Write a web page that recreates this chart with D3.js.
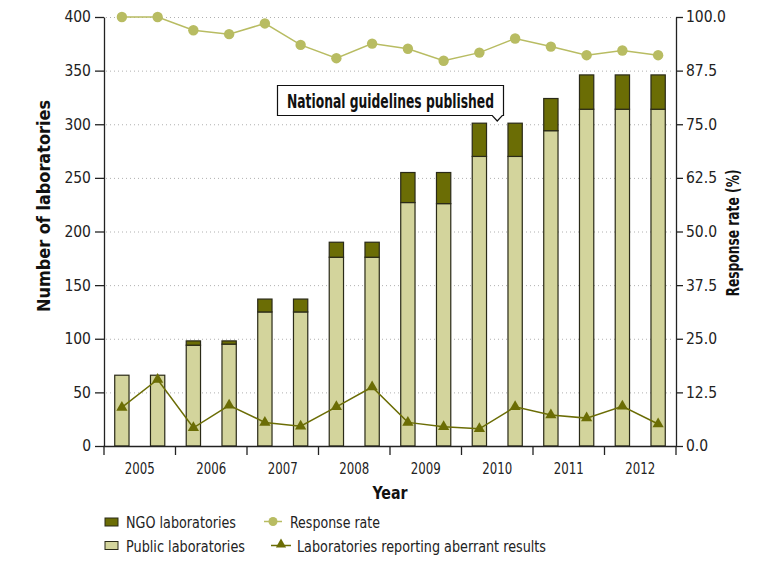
<!DOCTYPE html>
<html>
<head>
<meta charset="utf-8">
<script src="https://cdn.jsdelivr.net/npm/d3@7"></script>
<style>
  html, body { margin: 0; padding: 0; background: #fff; }
  svg { display: block; font-family: "DejaVu Sans", sans-serif; font-stretch: condensed; }
</style>
</head>
<body>
<svg id="chart" width="771" height="562"></svg>
<script>
const years = ["2005", "2006", "2007", "2008", "2009", "2010", "2011", "2012"];
const periods = ["2005a","2005b","2006a","2006b","2007a","2007b","2008a","2008b","2009a","2009b","2010a","2010b","2011a","2011b","2012a","2012b"];
const publicLabs = [66, 66, 94, 95, 125, 125, 176, 176, 227, 226, 270, 270, 294, 314, 314, 314];
const ngoLabs    = [0, 0, 4, 3, 12, 12, 14, 14, 28, 29, 31, 31, 30, 32, 32, 32];
const responseRate = [100, 100, 96.9, 96.0, 98.5, 93.5, 90.4, 93.8, 92.6, 89.8, 91.7, 95.0, 93.1, 91.1, 92.2, 91.1];
const aberrantLabs = [36, 62, 17, 38, 22, 18.5, 36.5, 55, 22, 18, 16, 36.5, 29, 26, 37, 20.5];
const leftTicks = [0, 50, 100, 150, 200, 250, 300, 350, 400];
const rightTicks = [0, 12.5, 25, 37.5, 50, 62.5, 75, 87.5, 100];
const annotationText = "National guidelines published";

const colNGO = "#6b6d05";
const colPublic = "#d3d49c";
const colResp = "#b8bc62";
const colAberr = "#6b6d05";

const svg = d3.select("#chart");
const L = 104, R = 676, T = 17, B = 446;

const x = d3.scaleBand().domain(periods).range([L, R]).paddingInner(0.6).paddingOuter(0.3);
const step = x.step();
const yL = d3.scaleLinear().domain([0, 400]).range([B, T]);
const yR = d3.scaleLinear().domain([0, 100]).range([B, T]);
const cx = d => x(d) + x.bandwidth() / 2;

// gridlines
svg.append("g").selectAll("line").data(leftTicks.filter(t => t > 0)).join("line")
  .attr("x1", L + 2).attr("x2", R - 2)
  .attr("y1", d => yL(d) + 0.5).attr("y2", d => yL(d) + 0.5)
  .attr("stroke", "#b0b0b0").attr("stroke-width", 1).attr("stroke-dasharray", "1,3");

// bars
const stacked = periods.map((p, i) => ({p, pub: publicLabs[i], ngo: ngoLabs[i]}));
const gb = svg.append("g");
gb.selectAll("rect.pub").data(stacked).join("rect").attr("class", "pub")
  .attr("x", d => x(d.p)).attr("width", x.bandwidth())
  .attr("y", d => yL(d.pub)).attr("height", d => yL(0) - yL(d.pub))
  .attr("fill", colPublic).attr("stroke", "#2a2a18").attr("stroke-width", 1.2);
gb.selectAll("rect.ngo").data(stacked.filter(d => d.ngo > 0)).join("rect").attr("class", "ngo")
  .attr("x", d => x(d.p)).attr("width", x.bandwidth())
  .attr("y", d => yL(d.pub + d.ngo)).attr("height", d => yL(d.pub) - yL(d.pub + d.ngo))
  .attr("fill", colNGO).attr("stroke", "#2a2a18").attr("stroke-width", 1.2);

// response rate line
const respLine = d3.line().x((d, i) => cx(periods[i])).y(d => yR(d));
svg.append("path").datum(responseRate).attr("d", respLine)
  .attr("fill", "none").attr("stroke", colResp).attr("stroke-width", 1.5);
svg.append("g").selectAll("circle").data(responseRate).join("circle")
  .attr("cx", (d, i) => cx(periods[i])).attr("cy", d => yR(d)).attr("r", 5.2)
  .attr("fill", colResp);

// aberrant line
const abLine = d3.line().x((d, i) => cx(periods[i])).y(d => yL(d));
svg.append("path").datum(aberrantLabs).attr("d", abLine)
  .attr("fill", "none").attr("stroke", colAberr).attr("stroke-width", 1.5);
const tri = d3.symbol().type(d3.symbolTriangle).size(55);
svg.append("g").selectAll("path").data(aberrantLabs).join("path")
  .attr("d", tri)
  .attr("transform", (d, i) => `translate(${cx(periods[i])},${yL(d)})`)
  .attr("fill", colAberr);

// left axis
const axL = svg.append("g").attr("transform", `translate(${L},0)`)
  .call(d3.axisLeft(yL).tickValues(leftTicks).tickSize(9).tickPadding(4).tickSizeOuter(0));
axL.attr("font-family", null);
axL.select(".domain").attr("stroke", "#222").attr("stroke-width", 1.3);
axL.selectAll(".tick line").attr("stroke", "#222").attr("stroke-width", 1.3);
axL.selectAll("text").attr("font-size", 15.5).attr("fill", "#222");

// right axis
const axR = svg.append("g").attr("transform", `translate(${R},0)`)
  .call(d3.axisRight(yR).tickValues(rightTicks).tickFormat(d3.format(".1f")).tickSize(7).tickPadding(3).tickSizeOuter(0));
axR.attr("font-family", null);
axR.select(".domain").attr("stroke", "#222").attr("stroke-width", 1.3);
axR.selectAll(".tick line").attr("stroke", "#222").attr("stroke-width", 1.3);
axR.selectAll("text").attr("font-size", 15.5).attr("fill", "#222");

// bottom axis: year boundaries
const yearX = d3.scaleBand().domain(years).range([L, R]);
const gx = svg.append("g");
gx.append("line").attr("x1", L - 0.5).attr("x2", R + 0.5).attr("y1", B + 0.5).attr("y2", B + 0.5)
  .attr("stroke", "#222").attr("stroke-width", 1.3);
const bounds = years.map(y => yearX(y)).concat([R]);
gx.selectAll("line.t").data(bounds).join("line").attr("class", "t")
  .attr("x1", d => d).attr("x2", d => d).attr("y1", B).attr("y2", B + 9)
  .attr("stroke", "#222").attr("stroke-width", 1.3);
gx.selectAll("text").data(years).join("text")
  .attr("x", d => yearX(d) + yearX.bandwidth() / 2).attr("y", 474)
  .attr("text-anchor", "middle").attr("font-size", 16.5).attr("fill", "#222")
  .attr("textLength", 30).attr("lengthAdjust", "spacingAndGlyphs").text(d => d);

// axis titles
svg.append("text").attr("x", (L + R) / 2).attr("y", 499).attr("text-anchor", "middle")
  .attr("font-size", 18).attr("font-weight", "bold").attr("fill", "#111")
  .attr("textLength", 35).attr("lengthAdjust", "spacingAndGlyphs").text("Year");
svg.append("text").attr("transform", "translate(50,206) rotate(-90)").attr("text-anchor", "middle")
  .attr("font-size", 17).attr("font-weight", "bold").attr("fill", "#111")
  .attr("textLength", 212).attr("lengthAdjust", "spacingAndGlyphs").text("Number of laboratories");
svg.append("text").attr("transform", "translate(739,233) rotate(-90)").attr("text-anchor", "middle")
  .attr("font-size", 17).attr("font-weight", "bold").attr("fill", "#111")
  .attr("textLength", 127).attr("lengthAdjust", "spacingAndGlyphs").text("Response rate (%)");

// annotation
const tipX = x(periods[11]) - (step - x.bandwidth()) / 2;
const ga = svg.append("g");
const bx0 = 277.5, bx1 = 503.5, by0 = 85.5, by1 = 115.5, tipY = 121;
ga.append("path")
  .attr("d", `M${bx0},${by0} H${bx1} V${by1} H${tipX + 5} L${tipX},${tipY} L${tipX - 5},${by1} H${bx0} Z`)
  .attr("fill", "#fff").attr("stroke", "#111").attr("stroke-width", 1.2);
ga.append("text").attr("x", (bx0 + bx1) / 2).attr("y", 107.5).attr("text-anchor", "middle")
  .attr("font-size", 19).attr("font-weight", "bold").attr("fill", "#111")
  .attr("textLength", 207).attr("lengthAdjust", "spacingAndGlyphs").text(annotationText);

// legend
const lg = svg.append("g").attr("font-size", 15.5).attr("fill", "#222");
lg.append("rect").attr("x", 105).attr("y", 518).attr("width", 13).attr("height", 8)
  .attr("fill", colNGO).attr("stroke", "#2a2a18");
lg.append("text").attr("x", 126).attr("y", 527.5).attr("textLength", 110).attr("lengthAdjust", "spacingAndGlyphs").text("NGO laboratories");
lg.append("rect").attr("x", 105).attr("y", 541.5).attr("width", 13).attr("height", 8)
  .attr("fill", colPublic).attr("stroke", "#2a2a18");
lg.append("text").attr("x", 126).attr("y", 551.5).attr("textLength", 119).attr("lengthAdjust", "spacingAndGlyphs").text("Public laboratories");
lg.append("line").attr("x1", 264).attr("x2", 282).attr("y1", 521.5).attr("y2", 521.5)
  .attr("stroke", colResp).attr("stroke-width", 1.5);
lg.append("circle").attr("cx", 273).attr("cy", 521.5).attr("r", 4.5).attr("fill", colResp);
lg.append("text").attr("x", 290).attr("y", 527.5).attr("textLength", 90).attr("lengthAdjust", "spacingAndGlyphs").text("Response rate");
lg.append("line").attr("x1", 271).attr("x2", 291).attr("y1", 545.5).attr("y2", 545.5)
  .attr("stroke", colAberr).attr("stroke-width", 1.5);
lg.append("path").attr("d", d3.symbol().type(d3.symbolTriangle).size(45))
  .attr("transform", "translate(281,544.5)").attr("fill", colAberr);
lg.append("text").attr("x", 297).attr("y", 551.5).attr("textLength", 249).attr("lengthAdjust", "spacingAndGlyphs").text("Laboratories reporting aberrant results");
</script>
</body>
</html>
